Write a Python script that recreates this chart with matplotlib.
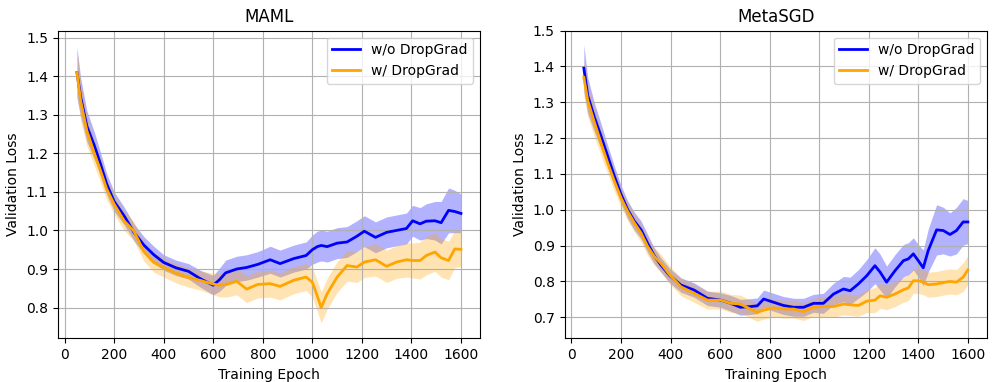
import numpy as np
import matplotlib
matplotlib.use("Agg")
import matplotlib.pyplot as plt

# MAML curves (epoch grid shared by both series)
maml_epochs = [50, 65, 90, 120, 145, 170, 200, 240, 280, 320, 360, 400, 450, 500, 550,
               600, 625, 650, 695, 735, 780, 830, 870, 925, 975, 1000, 1020, 1036, 1060,
               1100, 1140, 1180, 1210, 1255, 1300, 1340, 1380, 1405, 1435, 1460, 1495,
               1520, 1550, 1575, 1600]
maml_wo = [1.409, 1.345, 1.27, 1.22, 1.172, 1.12, 1.075, 1.038, 0.995, 0.962, 0.937, 0.917,
           0.903, 0.894, 0.874, 0.858, 0.872, 0.89, 0.9, 0.904, 0.912, 0.924, 0.914, 0.927,
           0.935, 0.95, 0.958, 0.961, 0.958, 0.967, 0.97, 0.985, 0.998, 0.982, 0.995, 1.0,
           1.005, 1.025, 1.017, 1.024, 1.025, 1.02, 1.052, 1.049, 1.044]
maml_w = [1.409, 1.335, 1.258, 1.2, 1.155, 1.107, 1.068, 1.025, 0.998, 0.945, 0.917, 0.904,
          0.889, 0.878, 0.87, 0.861, 0.858, 0.86, 0.868, 0.848, 0.86, 0.862, 0.855, 0.871,
          0.879, 0.866, 0.83, 0.8, 0.836, 0.879, 0.909, 0.905, 0.918, 0.924, 0.907, 0.918,
          0.924, 0.922, 0.922, 0.935, 0.944, 0.929, 0.922, 0.952, 0.951]
maml_wo_std = [0.065, 0.05, 0.04, 0.035, 0.03, 0.027, 0.025, 0.023, 0.022, 0.022, 0.022, 0.02,
               0.02, 0.02, 0.022, 0.025, 0.03, 0.033, 0.033, 0.033, 0.033, 0.035, 0.035, 0.035,
               0.035, 0.038, 0.04, 0.04, 0.04, 0.04, 0.04, 0.04, 0.04, 0.04, 0.04, 0.04,
               0.04, 0.04, 0.042, 0.045, 0.05, 0.055, 0.058, 0.055, 0.05]
maml_w_std = [0.06, 0.05, 0.04, 0.032, 0.03, 0.028, 0.026, 0.025, 0.025, 0.025, 0.025, 0.025,
              0.025, 0.025, 0.025, 0.028, 0.03, 0.033, 0.035, 0.035, 0.035, 0.035, 0.035, 0.035,
              0.035, 0.038, 0.04, 0.04, 0.04, 0.04, 0.04, 0.04, 0.04, 0.042, 0.042, 0.042,
              0.045, 0.045, 0.048, 0.05, 0.05, 0.05, 0.05, 0.048, 0.045]

# MetaSGD curves
msgd_epochs = [50, 66, 93, 119, 146, 173, 200, 227, 254, 281, 307, 334, 361, 397, 442, 495,
               549, 603, 643, 682, 722, 750, 776, 816, 856, 897, 937, 977, 1017, 1058, 1098,
               1125, 1158, 1192, 1225, 1246, 1272, 1306, 1340, 1360, 1380, 1400, 1420, 1440,
               1474, 1501, 1528, 1554, 1581, 1600]
msgd_wo = [1.395, 1.318, 1.257, 1.206, 1.15, 1.094, 1.043, 1.0, 0.968, 0.944, 0.907, 0.872,
           0.846, 0.816, 0.79, 0.776, 0.753, 0.748, 0.739, 0.728, 0.73, 0.732, 0.751, 0.742,
           0.733, 0.728, 0.728, 0.739, 0.739, 0.765, 0.779, 0.774, 0.793, 0.816, 0.844, 0.826,
           0.798, 0.83, 0.858, 0.863, 0.877, 0.858, 0.838, 0.886, 0.944, 0.942, 0.931, 0.942,
           0.966, 0.966]
msgd_w = [1.369, 1.304, 1.243, 1.187, 1.131, 1.08, 1.033, 0.995, 0.963, 0.935, 0.898, 0.87,
          0.851, 0.818, 0.785, 0.767, 0.748, 0.748, 0.739, 0.737, 0.723, 0.714, 0.72, 0.726,
          0.723, 0.723, 0.716, 0.728, 0.73, 0.73, 0.737, 0.735, 0.733, 0.745, 0.748, 0.76,
          0.756, 0.765, 0.777, 0.782, 0.802, 0.802, 0.798, 0.791, 0.793, 0.797, 0.8, 0.798,
          0.812, 0.832]
msgd_wo_std = [0.065, 0.05, 0.04, 0.035, 0.03, 0.028, 0.025, 0.025, 0.025, 0.025, 0.025, 0.022,
               0.02, 0.02, 0.02, 0.02, 0.02, 0.02, 0.022, 0.022, 0.022, 0.022, 0.025, 0.025,
               0.025, 0.025, 0.025, 0.025, 0.028, 0.03, 0.035, 0.038, 0.04, 0.045, 0.05, 0.05,
               0.045, 0.045, 0.045, 0.045, 0.045, 0.045, 0.05, 0.06, 0.07, 0.065, 0.06, 0.065,
               0.065, 0.06]
msgd_w_std = [0.05, 0.045, 0.04, 0.035, 0.03, 0.028, 0.025, 0.025, 0.025, 0.025, 0.025, 0.025,
              0.025, 0.025, 0.025, 0.025, 0.025, 0.025, 0.025, 0.025, 0.025, 0.025, 0.025, 0.025,
              0.025, 0.025, 0.025, 0.025, 0.028, 0.03, 0.03, 0.03, 0.03, 0.032, 0.035, 0.035,
              0.035, 0.035, 0.035, 0.035, 0.035, 0.035, 0.035, 0.035, 0.035, 0.035, 0.035, 0.035,
              0.04, 0.04]

titles = ["MAML", "MetaSGD"]
labels = ["w/o DropGrad", "w/ DropGrad"]
colors = ["blue", "orange"]


def plot_panel(ax, epochs, series, stds, title, ylim):
    x = np.array(epochs)
    for y, s, label, color in zip(series, stds, labels, colors):
        y = np.array(y)
        s = np.array(s)
        ax.fill_between(x, y - s, y + s, color=color, alpha=0.3, linewidth=0)
        ax.plot(x, y, color=color, linewidth=2, label=label)
    ax.set_title(title)
    ax.set_xlabel("Training Epoch")
    ax.set_ylabel("Validation Loss")
    ax.set_xlim(-27.5, 1677.5)
    ax.set_ylim(*ylim)
    ax.set_xticks(range(0, 1601, 200))
    ax.grid(True)
    ax.legend(loc="upper right")


fig, axes = plt.subplots(1, 2, figsize=(9.96, 3.82), dpi=100)
fig.subplots_adjust(left=0.058, right=0.991, bottom=0.114, top=0.92, wspace=0.2)

plot_panel(axes[0], maml_epochs, [maml_wo, maml_w], [maml_wo_std, maml_w_std],
           titles[0], (0.72, 1.518))
plot_panel(axes[1], msgd_epochs, [msgd_wo, msgd_w], [msgd_wo_std, msgd_w_std],
           titles[1], (0.641, 1.50))

fig.savefig("out.png", dpi=100)
